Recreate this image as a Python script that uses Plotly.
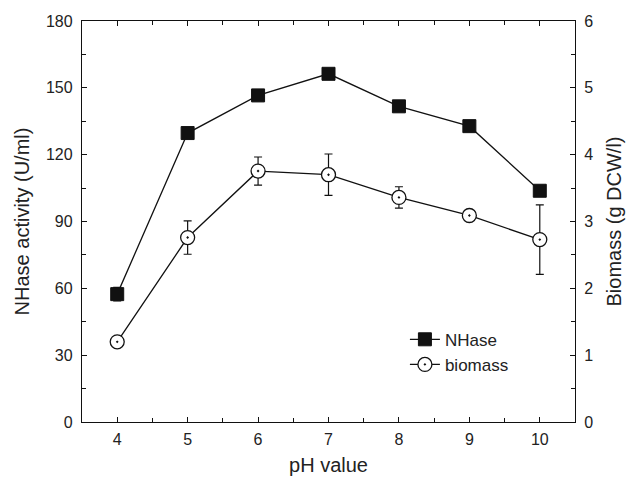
import plotly.graph_objects as go

ph = [4, 5, 6, 7, 8, 9, 10]
nhase = [57.4, 129.7, 146.6, 156.3, 141.7, 132.8, 103.8]
nhase_err = [3.0, 1.0, 1.0, 1.0, 1.0, 1.0, 1.0]
biomass = [1.20, 2.76, 3.755, 3.70, 3.36, 3.09, 2.73]
biomass_err = [0.05, 0.25, 0.21, 0.31, 0.16, 0.05, 0.52]

font_family = "Liberation Sans, Arial, sans-serif"

fig = go.Figure()
fig.add_trace(go.Scatter(
    x=ph, y=nhase, name="NHase", mode="lines+markers",
    line=dict(color="#111111", width=1.3),
    marker=dict(symbol="square", size=13, color="#111111", line=dict(color="#111111", width=1)),
    error_y=dict(type="data", array=nhase_err, color="#111111", thickness=1.2, width=4),
    yaxis="y",
))
fig.add_trace(go.Scatter(
    x=ph, y=biomass, name="biomass", mode="lines+markers",
    line=dict(color="#111111", width=1.3),
    marker=dict(symbol="circle-dot", size=14, color="white", line=dict(color="#111111", width=1.3)),
    error_y=dict(type="data", array=biomass_err, color="#111111", thickness=1.2, width=4),
    yaxis="y2",
))

axis_common = dict(
    showline=True, linecolor="#111111", linewidth=1.3,
    ticks="inside", ticklen=5, tickwidth=1, tickcolor="#111111",
    showgrid=False, zeroline=False, automargin=False,
    tickfont=dict(family=font_family, size=16, color="#222222"),
    title_font=dict(family=font_family, size=20, color="#222222"),
)

fig.update_layout(
    width=629, height=477,
    margin=dict(l=82, r=54, t=21, b=55),
    paper_bgcolor="white", plot_bgcolor="white",
    font=dict(family=font_family, color="#222222"),
    xaxis=dict(
        range=[3.5, 10.5], dtick=1, tick0=4, mirror="ticks",
        title=dict(text="pH value", standoff=10),
        ticklabelstandoff=3,
        minor=dict(ticks="inside", dtick=0.5, tick0=4, ticklen=4, tickcolor="#111111"),
        **axis_common,
    ),
    yaxis=dict(
        range=[0, 180], dtick=30, tick0=0,
        title=dict(text="NHase activity (U/ml)", standoff=10),
        ticklabelstandoff=5,
        minor=dict(ticks="inside", dtick=15, ticklen=4, tickcolor="#111111"),
        **axis_common,
    ),
    yaxis2=dict(
        range=[0, 6], dtick=1, tick0=0, overlaying="y", side="right",
        title=dict(text="Biomass (g DCW/l)", standoff=14),
        ticklabelstandoff=5,
        minor=dict(ticks="inside", dtick=0.5, ticklen=4, tickcolor="#111111"),
        **axis_common,
    ),
    legend=dict(
        x=0.655, y=0.25, xanchor="left", yanchor="top",
        bgcolor="rgba(0,0,0,0)", borderwidth=0,
        font=dict(family=font_family, size=17, color="#222222"),
        itemwidth=30,
    ),
)

fig.write_html("out.html")
